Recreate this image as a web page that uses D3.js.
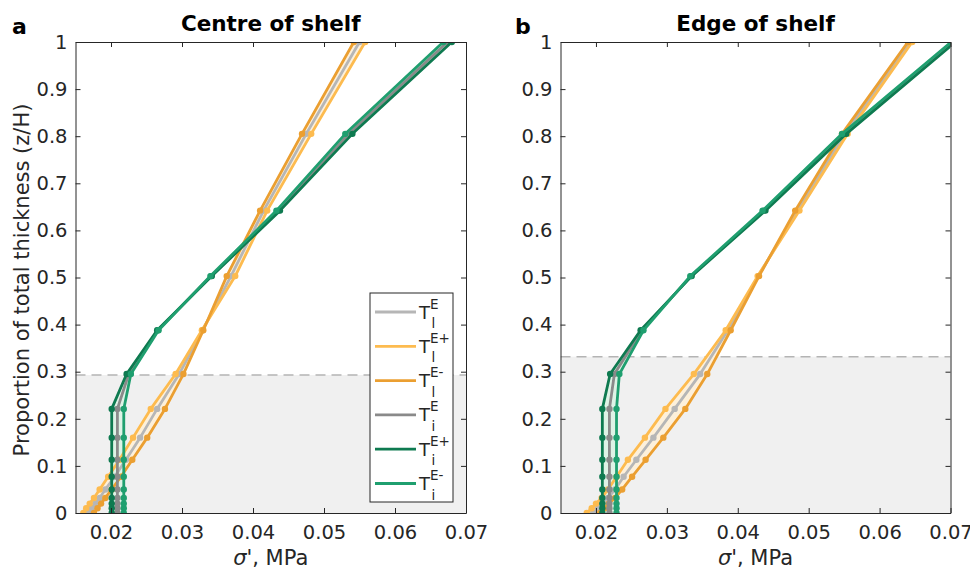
<!DOCTYPE html>
<html>
<head>
<meta charset="utf-8">
<script src="https://cdn.jsdelivr.net/npm/d3@7"></script>
<style>
    body { margin: 0; background: #fff; }
    text { font-family: 'DejaVu Sans', sans-serif; fill: #262626; }
</style>
</head>
<body>
<svg id="chart" width="970" height="572"></svg>
<script>

// proportion of total thickness at each model node
var levels = [0, 0.010, 0.020, 0.032, 0.050, 0.077, 0.113, 0.160, 0.221, 0.295, 0.388, 0.503, 0.642, 0.805, 1.0]

// centre of shelf, sigma' in MPa
var centre_Tl_E  = [0.0168, 0.0173, 0.0178, 0.0184, 0.0192, 0.0205, 0.0221, 0.0241, 0.0265, 0.0296, 0.0329, 0.0369, 0.0415, 0.0475, 0.0550]
var centre_Tl_Ep = [0.0161, 0.0165, 0.0170, 0.0176, 0.0184, 0.0196, 0.0212, 0.0231, 0.0256, 0.0291, 0.0328, 0.0375, 0.0420, 0.0482, 0.0558]
var centre_Tl_Em = [0.0176, 0.0181, 0.0186, 0.0192, 0.0201, 0.0214, 0.0230, 0.0251, 0.0276, 0.0302, 0.0330, 0.0363, 0.0410, 0.0469, 0.0542]
var centre_Ti_E  = [0.0209, 0.0209, 0.0209, 0.0209, 0.0209, 0.0209, 0.0209, 0.0209, 0.0209, 0.0225, 0.0266, 0.0341, 0.0436, 0.0535, 0.0674]
var centre_Ti_Ep = [0.0201, 0.0201, 0.0201, 0.0201, 0.0201, 0.0201, 0.0201, 0.0201, 0.0201, 0.0222, 0.0265, 0.0342, 0.0438, 0.0540, 0.0680]
var centre_Ti_Em = [0.0218, 0.0218, 0.0218, 0.0218, 0.0218, 0.0218, 0.0218, 0.0218, 0.0218, 0.0228, 0.0267, 0.0340, 0.0433, 0.0530, 0.0668]

// edge of shelf
var edge_Tl_E  = [0.0196, 0.0203, 0.0209, 0.0217, 0.0227, 0.0239, 0.0257, 0.0281, 0.0311, 0.0347, 0.0386, 0.0429, 0.0484, 0.0551, 0.0643]
var edge_Tl_Ep = [0.0187, 0.0194, 0.0200, 0.0208, 0.0217, 0.0229, 0.0245, 0.0269, 0.0298, 0.0338, 0.0383, 0.0428, 0.0487, 0.0555, 0.0646]
var edge_Tl_Em = [0.0206, 0.0212, 0.0218, 0.0227, 0.0237, 0.0251, 0.0270, 0.0295, 0.0326, 0.0357, 0.0390, 0.0430, 0.0481, 0.0547, 0.0640]
var edge_Ti_E  = [0.0219, 0.0219, 0.0219, 0.0219, 0.0219, 0.0219, 0.0219, 0.0219, 0.0219, 0.0226, 0.0265, 0.0334, 0.0437, 0.0550, 0.0704]
var edge_Ti_Ep = [0.0209, 0.0209, 0.0209, 0.0209, 0.0209, 0.0209, 0.0209, 0.0209, 0.0209, 0.0220, 0.0263, 0.0335, 0.0439, 0.0553, 0.0707]
var edge_Ti_Em = [0.0229, 0.0229, 0.0229, 0.0229, 0.0229, 0.0229, 0.0229, 0.0229, 0.0229, 0.0233, 0.0267, 0.0333, 0.0435, 0.0547, 0.0701]

// grounding line depth (dashed) for each panel
var centre_dash = 0.293
var edge_dash = 0.332

var xTicks = [0.02, 0.03, 0.04, 0.05, 0.06, 0.07]
var yTicks = [0, 0.1, 0.2, 0.3, 0.4, 0.5, 0.6, 0.7, 0.8, 0.9, 1]

var legendSub = ["l", "l", "l", "i", "i", "i"]
var legendSup = ["E", "E+", "E-", "E", "E+", "E-"]
var colours = ["#b6b6b6", "#fdbb4f", "#eb9f31", "#8a8a8a", "#0e7a50", "#1f9f6f"]
var bandColours = ["#fdf0da", "#def3e6"]

var svg = d3.select("#chart")
var top_y = 42, bottom_y = 513

function drawPanel(cfg) {

    var x = d3.scaleLinear().domain([0.015, 0.07]).range([cfg.left, cfg.right])
    var y = d3.scaleLinear().domain([0, 1]).range([bottom_y, top_y])

    var g = svg.append("g")

    g.append("clipPath")
        .attr("id", "clip_" + cfg.id)
        .append("rect")
        .attr("x", cfg.left)
        .attr("y", top_y)
        .attr("width", cfg.right - cfg.left)
        .attr("height", bottom_y - top_y)

    var plot = g.append("g").attr("clip-path", "url(#clip_" + cfg.id + ")")

    //grey shading below the dashed line
    plot.append("rect")
        .attr("x", cfg.left)
        .attr("y", y(cfg.dash))
        .attr("width", cfg.right - cfg.left)
        .attr("height", bottom_y - y(cfg.dash))
        .attr("fill", "#f0f0f0")

    plot.append("line")
        .attr("x1", cfg.left)
        .attr("x2", cfg.right)
        .attr("y1", y(cfg.dash))
        .attr("y2", y(cfg.dash))
        .attr("stroke", "#b4b4b4")
        .attr("stroke-width", 1.5)
        .attr("stroke-dasharray", "10,6")

    // bands between the + and - runs
    var bands = [[cfg.series[1], cfg.series[2]], [cfg.series[4], cfg.series[5]]]
    bands.forEach(function(b, i) {
        var pts = levels.map(function(l, j) { return [x(b[0][j]), y(l)] })
        var back = levels.map(function(l, j) { return [x(b[1][j]), y(l)] }).reverse()
        plot.append("path")
            .attr("d", "M" + pts.concat(back).join("L") + "Z")
            .attr("fill", bandColours[i])
    })

    var line = d3.line()
        .x(function(d) { return x(d[0]) })
        .y(function(d) { return y(d[1]) })

    // central run first, the + and - runs over it
    var order = [0, 1, 2, 3, 4, 5]
    order.forEach(function(k) {
        var pts = cfg.series[k].map(function(v, j) { return [v, levels[j]] })

        plot.append("path")
            .datum(pts)
            .attr("d", line)
            .attr("fill", "none")
            .attr("stroke", colours[k])
            .attr("stroke-width", 2.8)
            .attr("stroke-linejoin", "round")
            .attr("stroke-linecap", "round")

        plot.selectAll(".pt" + k)
            .data(pts)
            .enter()
            .append("circle")
            .attr("class", "pt" + k)
            .attr("cx", function(d) { return x(d[0]) })
            .attr("cy", function(d) { return y(d[1]) })
            .attr("r", 3.2)
            .attr("fill", colours[k])
    })

    //axes, ticks pointing inwards on all four sides
    var fmt = function(d) { return d === 0 ? "0" : d === 1 ? "1" : String(+d.toFixed(2)) }

    var xb = g.append("g")
        .attr("transform", "translate(0," + bottom_y + ")")
        .call(d3.axisBottom(x).tickValues(xTicks).tickSizeInner(-5).tickSizeOuter(0).tickPadding(12).tickFormat(fmt))
    var xt = g.append("g")
        .attr("transform", "translate(0," + top_y + ")")
        .call(d3.axisTop(x).tickValues(xTicks).tickSizeInner(-5).tickSizeOuter(0).tickFormat(""))
    var yl = g.append("g")
        .attr("transform", "translate(" + cfg.left + ",0)")
        .call(d3.axisLeft(y).tickValues(yTicks).tickSizeInner(-5).tickSizeOuter(0).tickPadding(8).tickFormat(fmt))
    var yr = g.append("g")
        .attr("transform", "translate(" + cfg.right + ",0)")
        .call(d3.axisRight(y).tickValues(yTicks).tickSizeInner(-5).tickSizeOuter(0).tickFormat(""))

    ;[xb, xt, yl, yr].forEach(function(a) {
        a.selectAll("path, line").attr("stroke", "#262626").attr("stroke-width", 1)
        a.selectAll("text")
            .attr("fill", "#262626")
            .style("font-size", "19.5px")
            .style("font-family", "'DejaVu Sans', sans-serif")
    })

    g.append("text")
        .attr("x", (cfg.left + cfg.right) / 2)
        .attr("y", 31)
        .attr("text-anchor", "middle")
        .style("font-size", "21.5px")
        .style("font-weight", "bold")
        .style("fill", "#000")
        .text(cfg.title)

    g.append("text")
        .attr("x", cfg.letterX)
        .attr("y", 34)
        .style("font-size", "22px")
        .style("font-weight", "bold")
        .style("fill", "#000")
        .text(cfg.letter)

    g.append("text")
        .attr("x", (cfg.left + cfg.right) / 2)
        .attr("y", 565)
        .attr("text-anchor", "middle")
        .style("font-size", "21px")
        .html("<tspan font-style='italic'>σ</tspan>', MPa")

    return { x: x, y: y, g: g }
}

var left = drawPanel({
    id: "a", left: 75.5, right: 466, title: "Centre of shelf", letter: "a", letterX: 12,
    dash: centre_dash,
    series: [centre_Tl_E, centre_Tl_Ep, centre_Tl_Em, centre_Ti_E, centre_Ti_Ep, centre_Ti_Em]
})

drawPanel({
    id: "b", left: 560.5, right: 950.5, title: "Edge of shelf", letter: "b", letterX: 515,
    dash: edge_dash,
    series: [edge_Tl_E, edge_Tl_Ep, edge_Tl_Em, edge_Ti_E, edge_Ti_Ep, edge_Ti_Em]
})

svg.append("text")
    .attr("transform", "translate(29,280) rotate(-90)")
    .attr("text-anchor", "middle")
    .style("font-size", "21px")
    .text("Proportion of total thickness (z/H)")

// legend in the left panel
var legend = svg.append("g")

legend.append("rect")
    .attr("x", 370)
    .attr("y", 293)
    .attr("width", 83)
    .attr("height", 209)
    .attr("fill", "#fff")
    .attr("stroke", "#262626")
    .attr("stroke-width", 1)

var items = legend.selectAll(".legend_item")
    .data(colours)
    .enter()
    .append("g")
    .attr("class", "legend_item")
    .attr("transform", function(d, i) { return "translate(0," + (312 + i * 34.3) + ")" })

items.append("line")
    .attr("x1", 375)
    .attr("x2", 416)
    .attr("stroke", function(d) { return d })
    .attr("stroke-width", 2.8)

items.append("text")
    .attr("x", 419)
    .attr("y", 6.5)
    .style("font-size", "18px")
    .text("T")

items.append("text")
    .attr("x", 430)
    .attr("y", -3.5)
    .style("font-size", "13.5px")
    .text(function(d, i) { return legendSup[i] })

items.append("text")
    .attr("x", 431.5)
    .attr("y", 16)
    .style("font-size", "13.5px")
    .text(function(d, i) { return legendSub[i] })

</script>
</body>
</html>
